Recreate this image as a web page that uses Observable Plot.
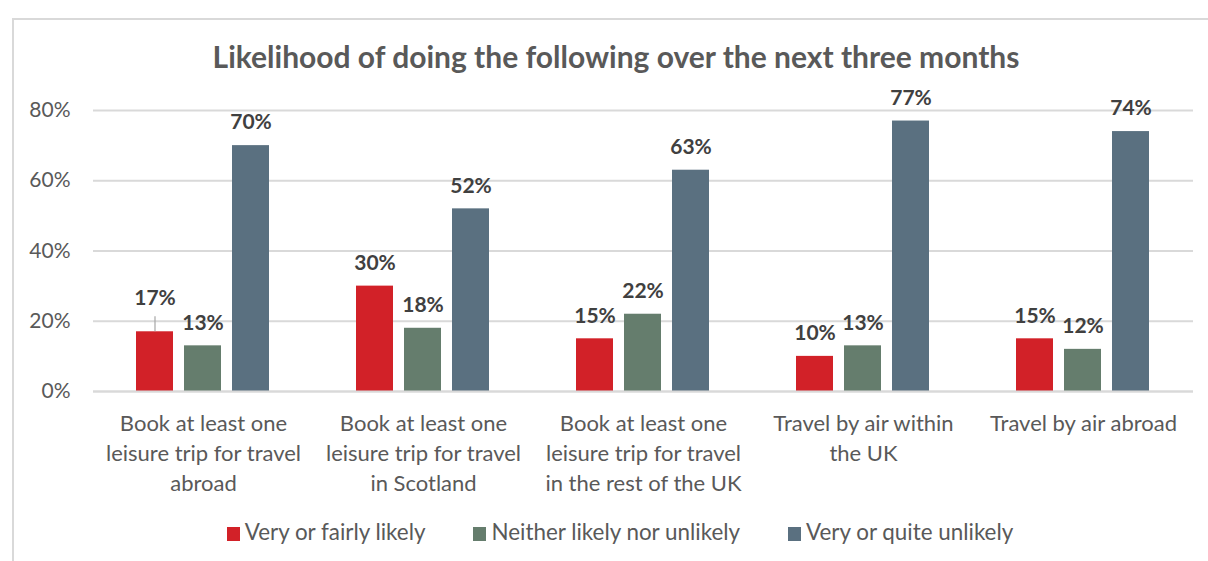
<!DOCTYPE html>
<html>
<head>
<meta charset="utf-8">
<script src="https://cdn.jsdelivr.net/npm/d3@7"></script>
<script src="https://cdn.jsdelivr.net/npm/@observablehq/plot@0.6"></script>
<style>
  html, body { margin: 0; padding: 0; background: #fff; }
  body { width: 1208px; height: 561px; position: relative; overflow: hidden; font-family: Lato, "Open Sans", sans-serif; color: #595959; }
  #frame { position: absolute; left: 12px; top: 18px; width: 1300px; height: 700px; border: 2px solid #d9d9d9; box-sizing: border-box; }
  #title { position: absolute; left: 0; width: 1232px; top: 38px; text-align: center; font-weight: bold; font-size: 30px; color: #595959; }
  #chart { position: absolute; left: 0; top: 0; }
  #legend { position: absolute; left: 0; width: 1240px; top: 518px; text-align: center; font-size: 22.4px; color: #595959; white-space: nowrap; }
  .item { display: inline-block; margin: 0 24px; }
  .sw { display: inline-block; width: 13px; height: 14px; margin-right: 5px; vertical-align: -1px; }
</style>
</head>
<body>
<div id="frame"></div>
<div id="title">Likelihood of doing the following over the next three months</div>
<div id="chart"></div>
<div id="legend"></div>
<script>
const categories = [
  "Book at least one\nleisure trip for travel\nabroad",
  "Book at least one\nleisure trip for travel\nin Scotland",
  "Book at least one\nleisure trip for travel\nin the rest of the UK",
  "Travel by air within\nthe UK",
  "Travel by air abroad"
];
const series = ["Very or fairly likely", "Neither likely nor unlikely", "Very or quite unlikely"];
const colors = ["#d22128", "#657d6d", "#5a7080"];
const likely   = [17, 30, 15, 10, 15];
const neither  = [13, 18, 22, 13, 12];
const unlikely = [70, 52, 63, 77, 74];
const yTicks = [0, 20, 40, 60, 80];

const seriesValues = [likely, neither, unlikely];
const data = [];
categories.forEach((c, i) => {
  series.forEach((s, j) => data.push({category: c, series: s, value: seriesValues[j][i]}));
});
// The first label is lifted above its bar with a leader line, as in the original
const lifted = data.filter((d, k) => k === 0);
const regular = data.filter((d, k) => k !== 0);

const chart = Plot.plot({
  width: 1208,
  height: 561,
  marginLeft: 93,
  marginRight: 15,
  marginTop: 110,
  marginBottom: 170,
  style: {fontFamily: "Lato, 'Open Sans', sans-serif", fontSize: "21px", color: "#595959", background: "transparent"},
  fx: {domain: categories, padding: 0, label: null},
  x: {domain: series, paddingInner: 0.224, paddingOuter: 0.857, axis: null},
  y: {domain: [0, 80], label: null},
  color: {domain: series, range: colors},
  marks: [
    Plot.gridY(yTicks, {stroke: "#d9d9d9", strokeOpacity: 1, strokeWidth: 2}),
    Plot.barY(data, {fx: "category", x: "series", y: "value", fill: "series"}),
    Plot.text(regular, {fx: "category", x: "series", y: "value", text: d => d.value + "%", dy: -23, fontWeight: "bold", fontSize: 21, fill: "#404040"}),
    Plot.ruleX(lifted, {fx: "category", x: "series", y1: "value", y2: d => d.value + 4.3, stroke: "#a6a6a6", strokeWidth: 1.2}),
    Plot.text(lifted, {fx: "category", x: "series", y: "value", text: d => d.value + "%", dy: -34, fontWeight: "bold", fontSize: 21, fill: "#404040"}),
    Plot.axisY(yTicks, {tickFormat: d => d + "%", tickSize: 0, tickPadding: 23, fontSize: 21, fill: "#595959"}),
    Plot.axisFx({anchor: "bottom", tickSize: 0, tickPadding: 18, lineHeight: 1.36, fontSize: 22, fill: "#595959", label: null}),
    Plot.ruleY([0], {stroke: "#d9d9d9", strokeWidth: 2})
  ]
});
document.getElementById("chart").appendChild(chart);

const legend = document.getElementById("legend");
series.forEach((s, i) => {
  const item = document.createElement("span");
  item.className = "item";
  item.innerHTML = `<span class="sw" style="background:${colors[i]}"></span>${s}`;
  legend.appendChild(item);
});
</script>
</body>
</html>
